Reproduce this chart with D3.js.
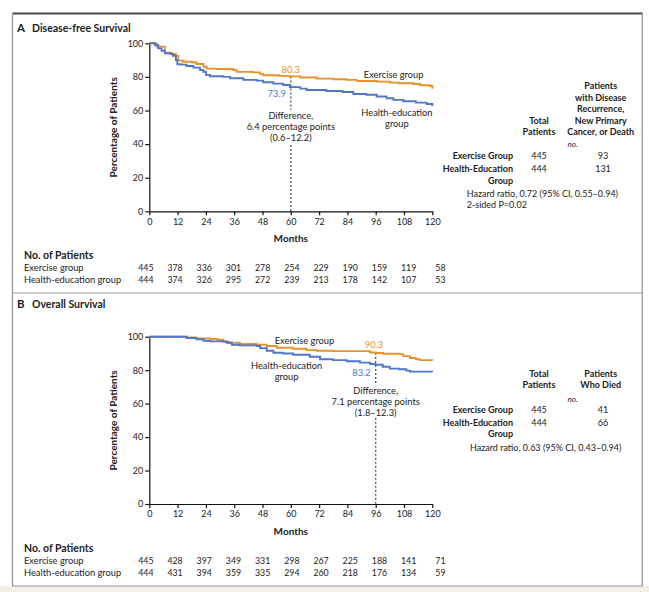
<!DOCTYPE html>
<html><head><meta charset="utf-8">
<script src="https://cdn.jsdelivr.net/npm/d3@7"></script>
<style>
body{margin:0;background:#fff;}
svg text{font-family:Lato,"Open Sans",sans-serif;fill:#222;}
</style></head><body>
<svg id="c" width="649" height="592"></svg>
<script>
// ---- data ----
const months = [0,12,24,36,48,60,72,84,96,108,120];
const pctTicks = [0,20,40,60,80,100];

const exA_t = [0,3,6.6,9.5,11.3,12.3,14.4,18,20,23,24.3,28.5,35.6,37,44,47,48.3,55,59.6,64,71,78,83.7,88,96.4,102,106,112,114.8,119,120];
const exA_s = [100,98,94.4,93.6,92.5,89.7,89,88.7,87.7,86,84.9,84.7,84.1,83,82.7,81.7,81,80.6,80.3,79.6,79,78.6,78.2,77.6,77.2,76.6,76.2,75.8,75,74.6,73];
const heA_t = [0,2.4,3.8,5.2,6.6,8.8,10,11.3,11.9,13.7,15.8,18.7,21.5,22.9,24,25.7,31.4,34.2,39.9,45.5,48.3,52.6,56.8,59.6,64,66.7,75,82,86.5,92,96.4,100.6,103.5,107.7,113,117.6,120];
const heA_s = [100,99,97,95.6,94,93.7,92.5,90,87.5,87.3,86.5,85.5,84.1,83.1,81.2,80.4,80,79.2,78.2,77.8,76.8,76,75.2,73.9,73,72.2,71.6,71,69.8,69.4,68.3,67.3,66.3,65.5,64.7,63.9,62.7];

const exB_t = [0,15.8,20,25.7,29,31.4,34,38.4,45.5,49.8,54,61,66.7,71,78,93.6,96,99,106,107.7,110.5,113,114.8,120];
const exB_s = [100,99.6,99,98.6,98,97,96.4,95.6,95.2,94.4,93.4,92.8,92,91.6,91.4,90.6,90.3,89.8,89.6,88.4,87.3,86.5,86,85.7];
const heB_t = [0,15.8,20,23,25.7,32.8,35,38.4,45.5,47,49.8,52.6,56.8,61,68,72.4,78,83.7,89.3,93.6,95.8,99,102,106,109,110.5,120];
const heB_s = [100,99.2,98.4,97.6,97.2,96.4,95.2,94.8,94.4,93.2,91.6,90.4,90,89.2,88,86.5,86,85.3,84.5,83.7,83.2,82,80.9,80.5,79.7,79.1,78.9];

const riskA_ex = [445,378,336,301,278,254,229,190,159,119,58];
const riskA_he = [444,374,326,295,272,239,213,178,142,107,53];
const riskB_ex = [445,428,397,349,331,298,267,225,188,141,71];
const riskB_he = [444,431,394,359,335,294,260,218,176,134,59];

const groups = ["Exercise Group","Health-Education Group"];
const totals = [445,444];
const eventsA = [93,131];
const eventsB = [41,66];

const ORANGE="#e8922a", BLUE="#4f77c9";
const svg = d3.select("#c");

// frame
svg.append("rect").attr("x",0).attr("y",586).attr("width",649).attr("height",6).attr("fill","#f3eee6");
svg.append("line").attr("x1",12).attr("x2",643).attr("y1",13.5).attr("y2",13.5).attr("stroke","#444").attr("stroke-width",2);
svg.append("line").attr("x1",12.5).attr("x2",12.5).attr("y1",13).attr("y2",586).attr("stroke","#999").attr("stroke-width",1.3);
svg.append("line").attr("x1",642.3).attr("x2",642.3).attr("y1",13).attr("y2",586).attr("stroke","#999").attr("stroke-width",1.3);
svg.append("line").attr("x1",12).attr("x2",643).attr("y1",293).attr("y2",293).attr("stroke","#999").attr("stroke-width",1.2);
svg.append("line").attr("x1",12).attr("x2",643).attr("y1",586).attr("y2",586).attr("stroke","#999").attr("stroke-width",1.2);

const x = d3.scaleLinear().domain([0,120]).range([149.3,432.3]);
const xr = d3.scaleLinear().domain([0,120]).range([153.5,445.5]);

function panel(o){
  const y = d3.scaleLinear().domain([0,100]).range([o.y0,o.y100]);
  const g = svg.append("g");
  // title
  g.append("text").attr("x",17).attr("y",o.titleY).attr("font-size",11.5).attr("font-weight","bold").text(o.letter);
  g.append("text").attr("x",32).attr("y",o.titleY).attr("font-size",10.5).attr("font-weight","bold").text(o.title);
  // axes
  const ya = g.append("g").attr("transform",`translate(${x(0)},0)`)
    .call(d3.axisLeft(y).tickValues(pctTicks).tickSize(4).tickSizeOuter(0).tickPadding(2));
  const xa = g.append("g").attr("transform",`translate(0,${o.y0})`)
    .call(d3.axisBottom(x).tickValues(months).tickSize(4).tickSizeOuter(0).tickPadding(3));
  [ya,xa].forEach(a=>{a.selectAll("text").attr("font-size",9).attr("font-family","Lato").attr("fill","#222");
    a.selectAll("line,path").attr("stroke","#111").attr("stroke-width",1.2);});
  g.append("text").attr("transform",`translate(117,${(o.y0+o.y100)/2}) rotate(-90)`).attr("text-anchor","middle")
    .attr("font-size",10).attr("font-weight","bold").text("Percentage of Patients");
  g.append("text").attr("x",x(60)).attr("y",o.y0+31).attr("text-anchor","middle").attr("font-size",10).attr("font-weight","bold").text("Months");
  // dashed line
  const dm = o.diffM;
  [[o.dashTop,o.gapTop],[o.gapBot,0]].forEach(([a,b])=>{
    g.append("line").attr("x1",x(dm)).attr("x2",x(dm)).attr("y1",y(a)).attr("y2",y(b))
      .attr("stroke","#555").attr("stroke-width",1.3).attr("stroke-dasharray","2,2");
  });
  o.diffText.forEach((t,i)=>g.append("text").attr("x",x(dm)).attr("y",y(o.diffY[i])+3.3).attr("text-anchor","middle").attr("font-size",9.3).text(t));
  // curves
  const line = d3.line().x(d=>x(d[0])).y(d=>y(d[1])).curve(d3.curveStepAfter);
  [[o.ex,ORANGE],[o.he,BLUE]].forEach(([s,c])=>{
    const pts = s[0].map((t,i)=>[t,s[1][i]]);
    g.append("path").attr("d",line(pts)).attr("fill","none").attr("stroke",c).attr("stroke-width",1.9);
  });
  // labels
  o.labels.forEach(l=>g.append("text").attr("x",x(l[0])).attr("y",y(l[1])+3.3).attr("text-anchor",l[3]||"middle")
    .attr("font-size",9.3).style("fill",l[2]).text(l[4]));
  // table
  o.header.forEach(h=>g.append("text").attr("x",h[0]).attr("y",h[1]).attr("text-anchor","middle").attr("font-size",9)
    .attr("font-weight","bold").text(h[2]));
  g.append("text").attr("x",572.7).attr("y",o.noY).attr("text-anchor","middle").attr("font-size",8).attr("font-style","italic").text("no.");
  const rows=[o.rowY, o.rowY+13.3];
  groups.forEach((gname,i)=>{
    if(i===0){
      g.append("text").attr("x",513).attr("y",rows[i]).attr("text-anchor","end").attr("font-size",9).attr("font-weight","bold").text(gname);
    } else {
      g.append("text").attr("x",513).attr("y",rows[i]).attr("text-anchor","end").attr("font-size",9).attr("font-weight","bold").text("Health-Education");
      g.append("text").attr("x",513).attr("y",rows[i]+11.5).attr("text-anchor","end").attr("font-size",9).attr("font-weight","bold").text("Group");
    }
    g.append("text").attr("x",539).attr("y",rows[i]).attr("text-anchor","middle").attr("font-size",9).text(totals[i]);
    g.append("text").attr("x",603).attr("y",rows[i]).attr("text-anchor","middle").attr("font-size",9).text(o.events[i]);
  });
  o.notes.forEach((n,i)=>g.append("text").attr("x",o.noteX).attr("y",o.noteY+i*10.8).attr("font-size",9).text(n));
  // number at risk
  g.append("text").attr("x",24).attr("y",o.riskY).attr("font-size",10.5).attr("font-weight","bold").text("No. of Patients");
  [["Exercise group",o.rEx],["Health-education group",o.rHe]].forEach(([lab,arr],i)=>{
    const yy=o.riskY+12.5+i*11.5;
    g.append("text").attr("x",24).attr("y",yy).attr("font-size",9.3).text(lab);
    g.selectAll(null).data(arr).enter().append("text").attr("x",(d,j)=>xr(months[j])).attr("y",yy)
      .attr("text-anchor","end").attr("font-size",8.8).text(d=>d);
  });
}

panel({letter:"A",title:"Disease-free Survival",titleY:31.5,y0:211.3,y100:43.3,diffM:60,
  dashTop:80.3,gapTop:60.5,gapBot:39.5,diffText:["Difference,","6.4 percentage points","(0.6\u201312.2)"],diffY:[56.7,50.1,43.6],
  ex:[exA_t,exA_s],he:[heA_t,heA_s],
  labels:[[60,84.1,ORANGE,"middle","80.3"],[57.9,70.2,BLUE,"end","73.9"],[103.6,81.1,"#222","middle","Exercise group"],
          [105,58.9,"#222","middle","Health-education"],[105,52.4,"#222","middle","group"]],
  header:[[600.7,89,"Patients"],[600.7,100.5,"with Disease"],[600.7,112,"Recurrence,"],[600.7,123.5,"New Primary"],[600.7,135,"Cancer, or Death"],
          [539,123.5,"Total"],[539,135,"Patients"]],
  noY:147,rowY:158.7,events:eventsA,noteX:466.7,noteY:197.3,
  notes:["Hazard ratio, 0.72 (95% CI, 0.55\u20130.94)","2-sided P=0.02"],
  riskY:258.5,rEx:riskA_ex,rHe:riskA_he});

panel({letter:"B",title:"Overall Survival",titleY:307.5,y0:504,y100:336.7,diffM:96,
  dashTop:90.3,gapTop:71,gapBot:51.5,diffText:["Difference,","7.1 percentage points","(1.8\u201312.3)"],diffY:[67.5,61.1,54.8],
  ex:[exB_t,exB_s],he:[heB_t,heB_s],
  labels:[[95.3,95.5,ORANGE,"middle","90.3"],[90,78.7,BLUE,"middle","83.2"],[65.8,97.4,"#222","middle","Exercise group"],
          [58.2,82.7,"#222","middle","Health-education"],[58.2,76.1,"#222","middle","group"]],
  header:[[539,376.6,"Total"],[539,388.3,"Patients"],[600.7,376.6,"Patients"],[600.7,388.3,"Who Died"]],
  noY:402,rowY:412.6,events:eventsB,noteX:470,noteY:450.6,
  notes:["Hazard ratio, 0.63 (95% CI, 0.43\u20130.94)"],
  riskY:551.5,rEx:riskB_ex,rHe:riskB_he});
</script></body></html>
